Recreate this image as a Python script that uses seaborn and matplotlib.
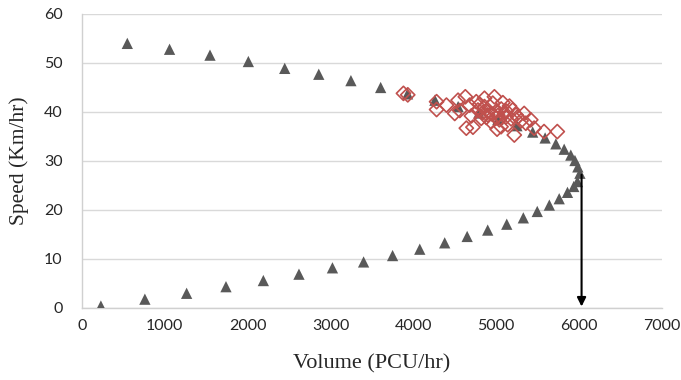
import numpy as np
import pandas as pd
import matplotlib
matplotlib.use("Agg")
import matplotlib.pyplot as plt
import seaborn as sns

# Speed-flow model curve (triangles): volume in PCU/hr, speed in km/hr
model_volume = [547, 1057, 1545, 2008, 2447, 2858, 3246, 3605, 3930, 4260,
                4540, 4790, 5020, 5250, 5440, 5590, 5720, 5820, 5900, 5950,
                5985, 6010,
                5980, 5936, 5860, 5760, 5641, 5495, 5327, 5127, 4897, 4649,
                4378, 4077, 3749, 3399, 3023, 2619, 2189, 1738, 1263, 759, 228]
model_speed = [54.0, 52.8, 51.6, 50.3, 48.9, 47.7, 46.4, 45.0, 43.7, 42.4,
               41.1, 39.8, 38.5, 37.2, 35.9, 34.7, 33.5, 32.4, 31.2, 30.1,
               28.8, 27.5,
               25.8, 24.8, 23.6, 22.3, 21.0, 19.7, 18.4, 17.1, 15.9, 14.6,
               13.3, 12.0, 10.7, 9.4, 8.2, 6.9, 5.6, 4.35, 3.0, 1.8, 0.4]

# Observed field data (open diamonds)
obs_volume = [3880, 3932, 4280, 4280, 4399, 4499, 4539, 4627, 4639, 4719,
              4679, 4759, 4779, 4858, 4898, 4958, 4998, 4938, 5058, 5118,
              5198, 5218, 5258, 5337, 5357, 5417, 5457, 5577, 5737, 5038,
              4819, 5138, 4858, 4978, 5080, 5160, 5300, 4700, 4560, 5010,
              4900, 4950, 5020, 5100, 5060, 4840, 5180, 5240, 4880, 5000,
              5120, 4800]
obs_speed = [43.8, 43.5, 42.1, 40.5, 41.4, 39.7, 42.4, 43.1, 36.7, 36.9,
             41.4, 42.1, 40.4, 41.1, 39.4, 41.8, 40.1, 38.0, 37.0, 39.0,
             40.4, 35.3, 39.0, 39.7, 37.7, 38.4, 36.7, 36.0, 36.0, 38.4,
             38.7, 37.4, 42.8, 43.1, 41.9, 41.2, 38.2, 39.2, 40.3, 36.5,
             40.0, 39.6, 39.3, 39.8, 40.6, 39.9, 38.6, 39.4, 38.9, 38.8,
             40.2, 41.6]

# Capacity marker
capacity_volume = 6030
capacity_speed = 27.2

x_ticks = [0, 1000, 2000, 3000, 4000, 5000, 6000, 7000]
y_ticks = [0, 10, 20, 30, 40, 50, 60]

model_df = pd.DataFrame({"Volume": model_volume, "Speed": model_speed})
obs_df = pd.DataFrame({"Volume": obs_volume, "Speed": obs_speed})

sns.set_style("white")
fig = plt.figure(figsize=(6.81, 3.80), dpi=100)
ax = fig.add_axes([0.1204, 0.1895, 0.8516, 0.7737])

sns.scatterplot(data=model_df, x="Volume", y="Speed", marker="^", s=66,
                color="#595959", edgecolor="none", linewidth=0, ax=ax, zorder=3)
sns.scatterplot(data=obs_df, x="Volume", y="Speed", marker="D", s=52,
                facecolor="none", edgecolor="#C0504D", linewidth=1.2, ax=ax, zorder=4)

ax.annotate("", xy=(capacity_volume, 0.3), xytext=(capacity_volume, capacity_speed),
            arrowprops=dict(arrowstyle="-|>", color="black", lw=1.5,
                            mutation_scale=13, shrinkA=0, shrinkB=0), zorder=5)

ax.set_xlim(0, 7000)
ax.set_ylim(0, 60)
ax.set_xticks(x_ticks)
ax.set_yticks(y_ticks)
ax.yaxis.grid(True, color="#d9d9d9", linewidth=1.0)
ax.xaxis.grid(False)
ax.set_axisbelow(True)
for side in ["top", "right"]:
    ax.spines[side].set_visible(False)
for side in ["left", "bottom"]:
    ax.spines[side].set_color("#d0d0d0")
    ax.spines[side].set_linewidth(1.0)

ax.tick_params(axis="both", length=0, labelsize=11.5)
ax.tick_params(axis="y", pad=14)
ax.tick_params(axis="x", pad=8)
for lab in ax.get_xticklabels() + ax.get_yticklabels():
    lab.set_family(["Lato", "DejaVu Sans"])

ax.set_xlabel("Volume (PCU/hr)", fontsize=16, family="Liberation Serif", labelpad=15)
ax.set_ylabel("Speed (Km/hr)", fontsize=15.5, family="Liberation Serif", labelpad=11)

fig.savefig("out.png", dpi=100)
